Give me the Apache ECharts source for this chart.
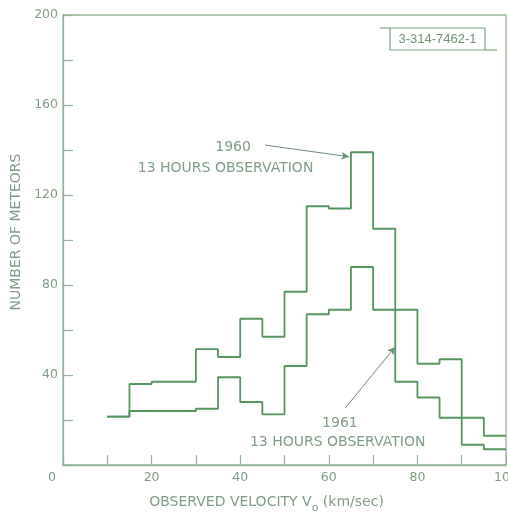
<!DOCTYPE html>
<html>
<head>
<meta charset="utf-8">
<script src="https://cdn.jsdelivr.net/npm/echarts@6/dist/echarts.min.js"></script>
<style>html,body{margin:0;padding:0;background:#fff}#c{width:508px;height:514px}</style>
</head>
<body>
<div id="c"></div>
<script>
// Bin edges (km/sec), 5 km/sec bins from 10 to 100
var binStarts = [10, 15, 20, 25, 30, 35, 40, 45, 50, 55, 60, 65, 70, 75, 80, 85, 90, 95];
var binEnd = 100;
// Number of meteors per bin
var counts1960 = [21.5, 36, 37, 37, 51.5, 48, 65, 57, 77, 115, 114, 139, 105, 69, 45, 47, 21, 13];
var counts1961 = [21.5, 24, 24, 24, 25, 39, 28, 22.5, 44, 67, 69, 88, 69, 37, 30, 21, 9, 7];
var xTicks = [0, 20, 40, 60, 80, 100];
var yTicks = [0, 40, 80, 120, 160, 200];

var LINE = '#55955f';
var AXIS = '#93b497';
var TEXT = '#809d85';
var FONT = '"DejaVu Sans", sans-serif';

function stepData(counts) {
  var d = binStarts.map(function (x, i) { return [x, counts[i]]; });
  d.push([binEnd, counts[counts.length - 1]]);
  return d;
}

var chart = echarts.init(document.getElementById('c'), null, {renderer: 'canvas'});
var option = {
  animation: false,
  backgroundColor: '#fff',
  grid: {left: 63, right: 2, top: 15, bottom: 49, containLabel: false, outerBoundsMode: 'none',
         show: true, borderColor: AXIS, borderWidth: 1.3, backgroundColor: 'transparent'},
  xAxis: {
    type: 'value', min: xTicks[0], max: xTicks[xTicks.length - 1], interval: 20,
    axisLine: {lineStyle: {color: AXIS, width: 1.3}},
    axisTick: {inside: true, length: 10, lineStyle: {color: AXIS, width: 1.2}},
    minorTick: {show: true, splitNumber: 2, length: 10, lineStyle: {color: AXIS, width: 1.2}},
    splitLine: {show: false},
    axisLabel: {
      color: TEXT, fontFamily: FONT, fontSize: 12.5, margin: 6, hideOverlap: false,
      formatter: function (v) { return v === 0 ? '{z|0}' : String(v); },
      rich: {z: {color: TEXT, fontFamily: FONT, fontSize: 12.5, padding: [0, 22, 0, 0]}}
    },
    name: '{a|OBSERVED VELOCITY V}{s|o}{a| (km/sec)}',
    nameLocation: 'middle', nameGap: 26,
    nameTextStyle: {padding: [0, 36, 0, 0],
      rich: {a: {color: TEXT, fontFamily: FONT, fontSize: 14}, s: {color: TEXT, fontFamily: FONT, fontSize: 11, padding: [12, 0, 0, 0]}}}
  },
  yAxis: {
    type: 'value', min: yTicks[0], max: yTicks[yTicks.length - 1], interval: 40,
    axisLine: {show: true, lineStyle: {color: AXIS, width: 1.3}},
    axisTick: {show: true, inside: true, length: 10, lineStyle: {color: AXIS, width: 1.2}},
    minorTick: {show: true, splitNumber: 2, length: 10, lineStyle: {color: AXIS, width: 1.2}},
    splitLine: {show: false},
    axisLabel: {color: TEXT, fontFamily: FONT, fontSize: 12.5, margin: 5,
      formatter: function (v) { return v === 0 ? '' : String(v); }},
    name: 'NUMBER OF METEORS', nameLocation: 'middle', nameGap: 40,
    nameTextStyle: {color: TEXT, fontFamily: FONT, fontSize: 14, padding: [0, 0, 0, 16]}
  },
  series: [
    {name: '1960', type: 'line', step: 'end', data: stepData(counts1960), symbol: 'none',
     lineStyle: {color: LINE, width: 1.8}, z: 3},
    {name: '1961', type: 'line', step: 'end', data: stepData(counts1961), symbol: 'none',
     lineStyle: {color: LINE, width: 1.8}, z: 3,
     markLine: {
       silent: true, symbol: ['none', 'arrow'], symbolSize: [6, 8],
       lineStyle: {color: '#6f8f75', width: 1, type: 'solid'}, label: {show: false},
       data: [
         [{coord: [45.6, 142.2]}, {coord: [64.6, 137.0]}],
         [{coord: [63.7, 25.3]}, {coord: [75.0, 52.5]}]
       ]
     }}
  ]
};
chart.setOption(option);

function px(p) { return chart.convertToPixel({gridIndex: 0}, p); }
var a1 = px([38.4, 141.3]);
var a2 = px([36.7, 132.0]);
var b1 = px([62.5, 18.7]);
var b2 = px([62.0, 10.2]);
var tStyle = {fill: TEXT, font: '14px ' + FONT, textAlign: 'center', textVerticalAlign: 'middle'};
chart.setOption({
  graphic: [
    {type: 'text', x: a1[0], y: a1[1], style: Object.assign({text: '1960'}, tStyle)},
    {type: 'text', x: a2[0], y: a2[1], style: Object.assign({text: '13 HOURS OBSERVATION'}, tStyle)},
    {type: 'text', x: b1[0], y: b1[1], style: Object.assign({text: '1961'}, tStyle)},
    {type: 'text', x: b2[0], y: b2[1], style: Object.assign({text: '13 HOURS OBSERVATION'}, tStyle)},
    {type: 'rect', shape: {x: 390, y: 28, width: 95, height: 22}, style: {fill: 'none', stroke: '#7fa585', lineWidth: 1.2}},
    {type: 'line', shape: {x1: 380, y1: 28, x2: 390, y2: 28}, style: {stroke: '#7fa585', lineWidth: 1.2}},
    {type: 'line', shape: {x1: 485, y1: 50, x2: 497, y2: 50}, style: {stroke: '#7fa585', lineWidth: 1.2}},
    {type: 'text', x: 437.5, y: 39.5, style: {text: '3-314-7462-1', fill: '#6f9474', font: '13px "Liberation Sans", sans-serif', textAlign: 'center', textVerticalAlign: 'middle'}}
  ]
});
</script>
</body>
</html>
